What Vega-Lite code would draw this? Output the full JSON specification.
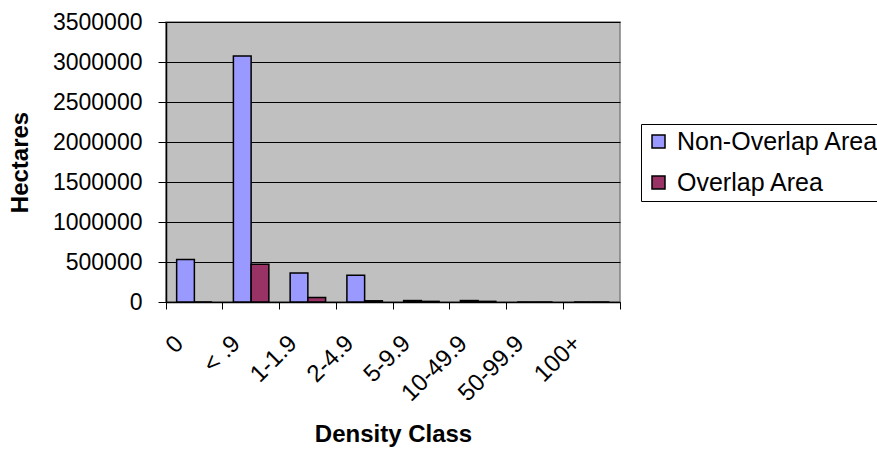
{
  "$schema": "https://vega.github.io/schema/vega-lite/v6.json",
  "width": 454,
  "height": 280,
  "autosize": "none",
  "padding": {"left": 166, "top": 22, "right": 257, "bottom": 147},
  "background": "white",
  "config": {
    "font": "Liberation Sans",
    "view": {"fill": "#C0C0C0", "stroke": "#808080", "strokeWidth": 1.5},
    "axis": {"domainColor": "black", "tickColor": "black", "labelColor": "black", "titleColor": "black", "labelFont": "Liberation Sans", "titleFont": "Liberation Sans"}
  },
  "data": {
    "values": [
      {"cls": "0", "series": "Non-Overlap Area", "ha": 530000},
      {"cls": "0", "series": "Overlap Area", "ha": 0},
      {"cls": "< .9", "series": "Non-Overlap Area", "ha": 3075000},
      {"cls": "< .9", "series": "Overlap Area", "ha": 471000},
      {"cls": "1-1.9", "series": "Non-Overlap Area", "ha": 362000},
      {"cls": "1-1.9", "series": "Overlap Area", "ha": 55000},
      {"cls": "2-4.9", "series": "Non-Overlap Area", "ha": 333000},
      {"cls": "2-4.9", "series": "Overlap Area", "ha": 15000},
      {"cls": "5-9.9", "series": "Non-Overlap Area", "ha": 18000},
      {"cls": "5-9.9", "series": "Overlap Area", "ha": 8000},
      {"cls": "10-49.9", "series": "Non-Overlap Area", "ha": 18000},
      {"cls": "10-49.9", "series": "Overlap Area", "ha": 8000},
      {"cls": "50-99.9", "series": "Non-Overlap Area", "ha": 0},
      {"cls": "50-99.9", "series": "Overlap Area", "ha": 0},
      {"cls": "100+", "series": "Non-Overlap Area", "ha": 0},
      {"cls": "100+", "series": "Overlap Area", "ha": 0}
    ]
  },
  "mark": {"type": "bar", "stroke": "black", "strokeWidth": 1.5},
  "encoding": {
    "x": {
      "field": "cls", "type": "nominal", "sort": null,
      "scale": {"paddingInner": 0, "paddingOuter": 0},
      "axis": {
        "title": "Density Class", "titleFontSize": 24, "titleFontWeight": "bold",
        "titleY": 132, "titleBaseline": "middle",
        "labelAngle": -45, "labelFontSize": 24, "labelPadding": 22,
        "bandPosition": 1, "tickExtra": true, "labelOffset": -23, "tickSize": 7,
        "domainWidth": 1.5, "grid": false
      }
    },
    "xOffset": {"field": "series", "type": "nominal", "sort": null, "scale": {"paddingInner": 0, "paddingOuter": 0.6}},
    "y": {
      "field": "ha", "type": "quantitative",
      "scale": {"domain": [0, 3500000], "nice": false},
      "axis": {
        "title": "Hectares", "titleFontSize": 24, "titleFontWeight": "bold",
        "titleX": -146, "titleY": 140, "titleAngle": -90, "titleBaseline": "middle", "titleAlign": "center",
        "values": [0, 500000, 1000000, 1500000, 2000000, 2500000, 3000000, 3500000],
        "format": "d", "labelFontSize": 23, "labelPadding": 16, "tickSize": 8,
        "grid": true, "gridColor": "black", "gridWidth": 1, "gridOpacity": 1, "domainWidth": 1.5
      }
    },
    "color": {
      "field": "series", "type": "nominal", "sort": null,
      "scale": {"domain": ["Non-Overlap Area", "Overlap Area"], "range": ["#9999FF", "#993366"]},
      "legend": {
        "title": null, "orient": "none", "legendX": 475, "legendY": 102,
        "symbolType": "square", "symbolSize": 169, "symbolStrokeColor": "black", "symbolStrokeWidth": 1.5,
        "labelFontSize": 25, "labelColor": "black", "labelFont": "Liberation Sans", "labelLimit": 300,
        "rowPadding": 15, "strokeColor": "black", "padding": 5, "fillColor": "white", "labelOffset": 6
      }
    }
  }
}
